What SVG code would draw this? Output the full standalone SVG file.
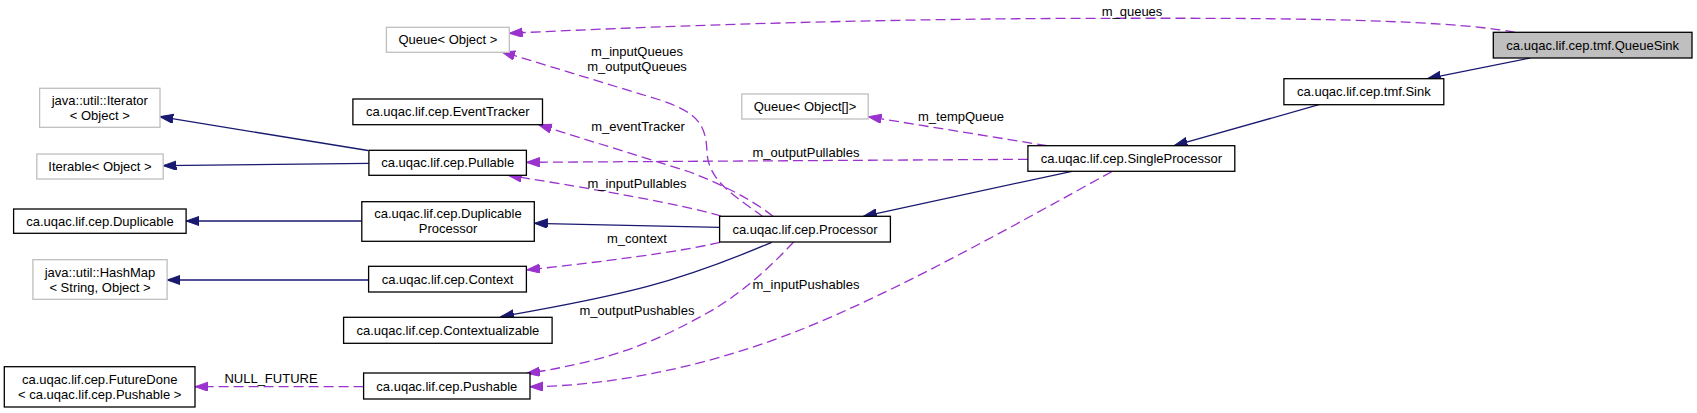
<svg xmlns="http://www.w3.org/2000/svg" width="1697" height="413" viewBox="0 0 1697 413">
<style>
text{font-family:"Liberation Sans",Arial,Helvetica,sans-serif;font-size:13px;fill:#000;text-anchor:middle}
.n{fill:#fff;stroke:#000;stroke-width:1.3}
.g{fill:#fff;stroke:#bfbfbf;stroke-width:1.3}
.cur{fill:#bfbfbf;stroke:#000;stroke-width:1.3}
.inh{fill:none;stroke:#191970;stroke-width:1.3;marker-end:url(#ah)}
.use{fill:none;stroke:#9a32cd;stroke-width:1.3;stroke-dasharray:10,5;marker-end:url(#ap)}
</style>
<defs>
<marker id="ah" markerUnits="userSpaceOnUse" markerWidth="14" markerHeight="10" refX="13.3" refY="4.67" orient="auto"><path d="M0,0 L13.3,4.67 L0,9.33 z" fill="#191970" stroke="#191970" stroke-width="1"/></marker>
<marker id="ap" markerUnits="userSpaceOnUse" markerWidth="14" markerHeight="10" refX="13.3" refY="4.67" orient="auto"><path d="M0,0 L13.3,4.67 L0,9.33 z" fill="#9a32cd" stroke="#9a32cd" stroke-width="1"/></marker>
</defs>
<rect width="1697" height="413" fill="#fff"/>
<g id="connectors">
<path class="inh" d="M1530,58 L1427.4,78.7"/>
<path class="inh" d="M1319,104.7 L1174.2,145.7"/>
<path class="inh" d="M1072,171.3 L863.5,216.3"/>
<path class="inh" d="M720,227.3 L534.3,223.3"/>
<path class="inh" d="M771.7,242.3 C735,258 690,275 646.7,286.7 C600,299 545,309 500.7,316.7"/>
<path class="inh" d="M368,150.5 L160,116.7"/>
<path class="inh" d="M368.9,163.3 L163.2,165.7"/>
<path class="inh" d="M361.8,221 L186.1,221"/>
<path class="inh" d="M368.6,280 L167.1,280"/>
<path class="use" d="M1515,32.3 C1440,18 1250,18 1100,18.3 C900,18.7 700,24 509.3,33.3"/>
<path class="use" d="M763,216.7 C738,198 708,182 707,152 C706,122 695,112 660,100 L501.7,51.7"/>
<path class="use" d="M773,216.3 C750,198 720,184 690,172 L538.5,124.7"/>
<path class="use" d="M721,216 C680,204 600,190 508.3,175.3"/>
<path class="use" d="M1027.9,159.3 L526.4,162.3"/>
<path class="use" d="M1047,145.7 L868.2,116.7"/>
<path class="use" d="M720,242.3 C680,252 600,262 526.7,270"/>
<path class="use" d="M793.6,242 C775,262 745,292 706.7,313.3 C680,328 640,350 580,363.3 C560,368 545,371 526.7,373.3"/>
<path class="use" d="M1111.7,171.7 C1020,222 900,290 800,330 C720,362 620,386 530,386.7"/>
<path class="use" d="M363.6,386.7 L195,386.7"/>
<text x="1132" y="16">m_queues</text>
<text x="637" y="56">m_inputQueues</text>
<text x="637" y="71">m_outputQueues</text>
<text x="961" y="121">m_tempQueue</text>
<text x="638" y="131">m_eventTracker</text>
<text x="806" y="157">m_outputPullables</text>
<text x="637" y="187.6">m_inputPullables</text>
<text x="637" y="243">m_context</text>
<text x="806" y="289">m_inputPushables</text>
<text x="637" y="314.6">m_outputPushables</text>
<text x="271" y="383">NULL_FUTURE</text>
</g>
<g id="QueueSink"><rect class="cur" x="1493.3" y="32.3" width="198.7" height="25.7"/><text x="1592.7" y="49.5">ca.uqac.lif.cep.tmf.QueueSink</text></g>
<g id="Sink"><rect class="n" x="1283.9" y="78.7" width="159.9" height="26"/><text x="1363.9" y="96.2">ca.uqac.lif.cep.tmf.Sink</text></g>
<g id="SingleProcessor"><rect class="n" x="1027.9" y="145.7" width="206.9" height="25.6"/><text x="1131.4" y="163">ca.uqac.lif.cep.SingleProcessor</text></g>
<g id="Processor"><rect class="n" x="719.6" y="216.3" width="170.8" height="25.7"/><text x="805" y="233.7">ca.uqac.lif.cep.Processor</text></g>
<g id="QueueObject"><rect class="g" x="386.4" y="27.3" width="122.9" height="25"/><text x="447.9" y="44.3">Queue&lt; Object &gt;</text></g>
<g id="QueueObjectArr"><rect class="g" x="741.8" y="94" width="126.4" height="25"/><text x="805" y="111">Queue&lt; Object[]&gt;</text></g>
<g id="EventTracker"><rect class="n" x="352.9" y="99" width="189.6" height="25.7"/><text x="447.7" y="116.3">ca.uqac.lif.cep.EventTracker</text></g>
<g id="Pullable"><rect class="n" x="368.9" y="150.3" width="157.5" height="25"/><text x="447.7" y="167.3">ca.uqac.lif.cep.Pullable</text></g>
<g id="DuplicableProcessor"><rect class="n" x="361.8" y="201.7" width="172.5" height="39.6"/><text x="448" y="218">ca.uqac.lif.cep.Duplicable</text><text x="448" y="232.5">Processor</text></g>
<g id="Duplicable"><rect class="n" x="13.6" y="209" width="172.5" height="24.3"/><text x="99.9" y="225.7">ca.uqac.lif.cep.Duplicable</text></g>
<g id="Iterator"><rect class="g" x="39.6" y="88.3" width="120.4" height="39"/><text x="99.8" y="104.8">java::util::Iterator</text><text x="99.8" y="119.8">&lt; Object &gt;</text></g>
<g id="Iterable"><rect class="g" x="36.8" y="154" width="126.4" height="25"/><text x="100" y="171">Iterable&lt; Object &gt;</text></g>
<g id="HashMap"><rect class="g" x="32.9" y="259.7" width="134.2" height="39.6"/><text x="100" y="276.5">java::util::HashMap</text><text x="100" y="291.5">&lt; String, Object &gt;</text></g>
<g id="Context"><rect class="n" x="368.6" y="266.3" width="157.8" height="25.7"/><text x="447.5" y="283.7">ca.uqac.lif.cep.Context</text></g>
<g id="Contextualizable"><rect class="n" x="343.6" y="317.3" width="208.5" height="26"/><text x="447.9" y="334.8">ca.uqac.lif.cep.Contextualizable</text></g>
<g id="FutureDone"><rect class="n" x="4.3" y="366.7" width="190.7" height="40.3"/><text x="99.7" y="383.8">ca.uqac.lif.cep.FutureDone</text><text x="99.7" y="398.8">&lt; ca.uqac.lif.cep.Pushable &gt;</text></g>
<g id="Pushable"><rect class="n" x="363.6" y="373" width="166.4" height="26"/><text x="446.8" y="390.5">ca.uqac.lif.cep.Pushable</text></g>
</svg>
